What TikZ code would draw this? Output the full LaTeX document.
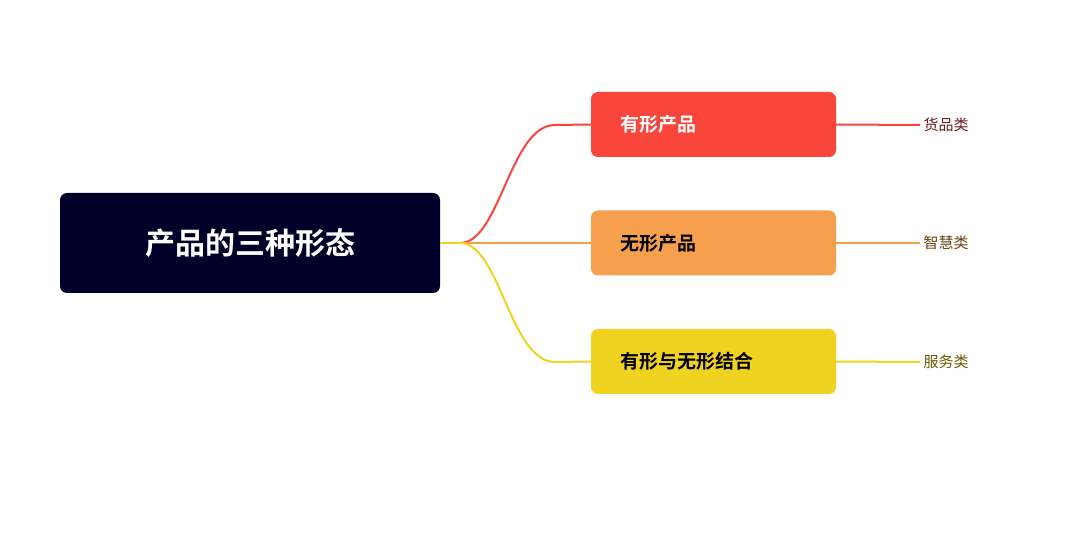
\documentclass[tikz,border=0pt]{standalone}
\usepackage{fontspec}
\setmainfont{Noto Sans CJK SC}[BoldFont={Noto Sans CJK SC Bold}]
\definecolor{navy}{HTML}{000028}
\definecolor{cr}{HTML}{F9453B}
\definecolor{co}{HTML}{F6A04E}
\definecolor{cy}{HTML}{F0D321}
\definecolor{tr}{HTML}{6B1A14}
\definecolor{to}{HTML}{6B4010}
\definecolor{ty}{HTML}{6B5A00}
\begin{document}
\begin{tikzpicture}[x=1pt,y=-1pt,
  box/.style={rounded corners=7pt,minimum width=245pt,minimum height=65pt,inner sep=0pt},
  btxt/.style={anchor=west,font=\bfseries\fontsize{19}{19}\selectfont},
  leaf/.style={anchor=west,font=\fontsize{15}{15}\selectfont},
  link/.style={line width=2pt}]
\useasboundingbox (0,0) rectangle (1066,534);
\node[box,fill=navy,minimum width=380pt,minimum height=100pt] (root) at (250,243) {};
\node[text=white,font=\bfseries\fontsize{30}{30}\selectfont] at (root) {产品的三种形态};
\coordinate (j) at (460,243);
\node[box,fill=cr] (a) at (713.5,124.5) {};
\node[box,fill=co] (b) at (713.5,243) {};
\node[box,fill=cy] (c) at (713.5,361.5) {};
\node[btxt,text=white] at (617,124.5) {有形产品};
\node[btxt] at (617,243) {无形产品};
\node[btxt] at (617,361.5) {有形与无形结合};
\node[leaf,text=tr] (la) at (920,125) {货品类};
\node[leaf,text=to] (lb) at (920,243) {智慧类};
\node[leaf,text=ty] (lc) at (920,362) {服务类};
\draw[link,cy] (root.east) -- (j);
\draw[link,cr] (j) .. controls (500,243) and (510,125) .. (555,125) -- (a.west);
\draw[link,co] (j) -- (b.west);
\draw[link,cy] (j) .. controls (500,243) and (510,362) .. (555,362) -- (c.west);
\draw[link,cr] (a.east) -- (la.west);
\draw[link,co] (b.east) -- (lb.west);
\draw[link,cy] (c.east) -- (lc.west);
\end{tikzpicture}
\end{document}
